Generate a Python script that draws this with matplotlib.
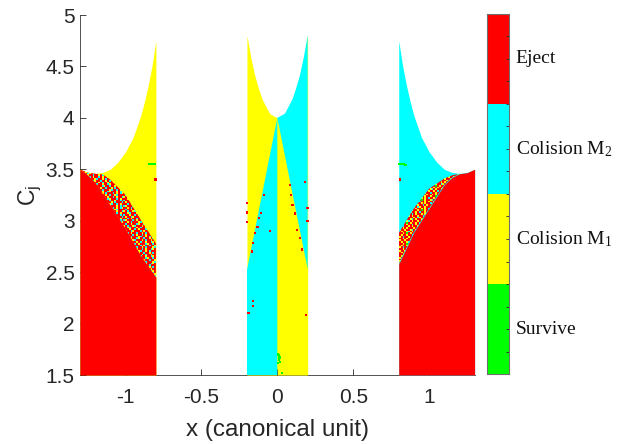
import numpy as np
import matplotlib.pyplot as plt
from matplotlib.colors import ListedColormap
from matplotlib.patches import Polygon

plt.rcParams['font.family'] = 'Liberation Sans'
plt.rcParams['axes.unicode_minus'] = False

# categories: 0 Survive, 1 Colision M1, 2 Colision M2, 3 Eject
cat_names = ["Survive", r"Colision $\mathregular{M_1}$", r"Colision $\mathregular{M_2}$", "Eject"]
cat_colors = ["#00ff00", "#ffff00", "#00ffff", "#ff0000"]
code = {"G": 0, "Y": 1, "C": 2, "R": 3}

# zero velocity curve (top of the allowed region), left strip and centre strip
zvc_left_x = [-1.30, -1.25, -1.20, -1.15, -1.10, -1.05, -1.00, -0.95, -0.90, -0.875, -0.85, -0.825, -0.80]
zvc_left_c = [3.50, 3.47, 3.46, 3.47, 3.50, 3.57, 3.67, 3.81, 4.02, 4.16, 4.32, 4.51, 4.75]
zvc_mid_x = [-0.20, -0.175, -0.15, -0.125, -0.10, -0.05, 0.0, 0.05, 0.10, 0.125, 0.15, 0.175, 0.20]
zvc_mid_c = [4.80, 4.59, 4.42, 4.29, 4.18, 4.04, 4.00, 4.04, 4.18, 4.29, 4.42, 4.59, 4.80]

# mixed band near L3 (left) : inner edge = top of solid red, outer edge = start of solid yellow
band_left_x = [-1.30, -1.25, -1.20, -1.15, -1.10, -1.00, -0.90, -0.80]
band_left_inner = [3.50, 3.445, 3.37, 3.26, 3.15, 2.92, 2.66, 2.45]
band_left_outer = [3.50, 3.467, 3.457, 3.45, 3.40, 3.25, 3.01, 2.78]

# mixed band near L2 (right)
band_right_x = [0.80, 0.90, 1.00, 1.10, 1.15, 1.20, 1.25, 1.30]
band_right_inner = [2.58, 2.89, 3.12, 3.35, 3.42, 3.457, 3.467, 3.50]
band_right_outer = [2.88, 3.12, 3.31, 3.41, 3.44, 3.457, 3.467, 3.50]

# diagonal boundaries in the centre strip
diag_x = [-0.20, 0.0, 0.20]
diag_c = [2.52, 4.00, 2.53]

# texture of the chaotic bands
tex_left = [
    "RRCRYRRCRRYRCRRRYCRRCRYR",
    "RYRRCYRRRCRYRRCRRYRCRRRC",
    "CRRYRRCRYRRRCYRRCRRYRRCR",
    "RRYCRRRYRCRRYRRCYRRRCRYR",
    "YRCRRYCRRRYRCRRYRRCRYRRC",
    "RCRRYRRCYRRCRRYRCRRYCRRR",
    "RRYRCRRRYCRRYRCRRRCRYRCY",
    "CYRRRCRYRRCRYRRCYRRRYRCR",
]
tex_right = [
    "RYRRYCRYRRYRGRYRRYCRYRRY",
    "YRRYRRYCRYRRYRYRCRRYRYRR",
    "RRYRYRRRYRCYRRYRRYRRGRYR",
    "YRCRRYRYRRYRRCRYRRYRYRRC",
    "RYRRYRRCRYRRYRYRRCRRYRRY",
    "RRYRGRYRRYRCRRYRYRRYRCRR",
]

# isolated pixels
speck_x = [-0.199, -0.199, -0.199, -0.086, -0.105, -0.118, -0.13, -0.145, -0.158, -0.167,
           -0.05, -0.16, -0.16, -0.19, 0.081, 0.092, 0.10, 0.114, 0.13, 0.147, 0.162,
           0.18, 0.199, 0.199, 0.19, -0.80, -0.805, 0.81,
           -0.845, -0.835, -0.825, -0.815, -0.805, 0.805, 0.815, 0.825, 0.835, 0.845,
           0.005, 0.012, 0.01, 0.02, 0.005, 0.015, 0.03]
speck_c = [3.17, 3.08, 2.99, 3.25, 3.075, 3.03, 2.94, 2.88, 2.78, 2.70,
           2.90, 2.22, 2.17, 2.10, 3.35, 3.25, 3.15, 3.07, 2.91, 2.83, 2.72,
           3.38, 3.12, 3.00, 2.08, 3.40, 3.40, 3.40,
           3.555, 3.555, 3.55, 3.55, 3.55, 3.555, 3.555, 3.55, 3.55, 3.545,
           1.62, 1.65, 1.69, 1.63, 1.70, 1.67, 1.52]
speck_cat = [3] * 28 + [0] * 17

cmap = ListedColormap(cat_colors)
RED, YEL, CYA = cat_colors[3], cat_colors[1], cat_colors[2]


def texture(rows, nr, nc):
    arr = np.array([[code[ch] for ch in r] for r in rows])
    reps = (nr // arr.shape[0] + 1, nc // arr.shape[1] + 1)
    return np.tile(arr, reps)[:nr, :nc]


def band(ax, xs, inner, outer, rows, nr, nc):
    verts = list(zip(xs, inner)) + list(zip(xs[::-1], outer[::-1]))
    poly = Polygon(verts, closed=True, transform=ax.transData, fc='none', ec='none')
    ax.add_patch(poly)
    im = ax.imshow(texture(rows, nr, nc), cmap=cmap, vmin=-0.5, vmax=3.5,
                   extent=[min(xs), max(xs), min(inner), max(outer)],
                   origin='lower', aspect='auto', interpolation='nearest', zorder=1.5)
    im.set_clip_path(poly)


fig = plt.figure(figsize=(6.38, 4.44), dpi=100)
ax = fig.add_axes([0.1254, 0.1554, 0.6185, 0.8108])

# left strip
ax.fill_between(zvc_left_x, 1.5, zvc_left_c, color=YEL, lw=0, zorder=1)
band(ax, band_left_x, band_left_inner, band_left_outer, tex_left, 60, 42)
ax.fill_between(band_left_x, 1.5, band_left_inner, color=RED, lw=0, zorder=2)

# right strip (mirror of the zero velocity curve)
zvc_right_x = [-v for v in zvc_left_x[::-1]]
zvc_right_c = zvc_left_c[::-1]
ax.fill_between(zvc_right_x, 1.5, zvc_right_c, color=CYA, lw=0, zorder=1)
band(ax, band_right_x, band_right_inner, band_right_outer, tex_right, 54, 42)
ax.fill_between(band_right_x, 1.5, band_right_inner, color=RED, lw=0, zorder=2)

# centre strip
ax.fill_between(zvc_mid_x, 1.5, zvc_mid_c, color=YEL, lw=0, zorder=1)
ax.fill([diag_x[0], diag_x[1], diag_x[1], diag_x[0]], [1.5, 1.5, diag_c[1], diag_c[0]],
        color=CYA, lw=0, zorder=2)
half = [(x, c) for x, c in zip(zvc_mid_x, zvc_mid_c) if x >= 0][::-1]
ax.fill([diag_x[1], diag_x[2]] + [p[0] for p in half],
        [diag_c[1], diag_c[2]] + [p[1] for p in half], color=CYA, lw=0, zorder=2)

ax.scatter(speck_x, speck_c, c=[cat_colors[k] for k in speck_cat], marker='s', s=2.5,
           linewidths=0, zorder=3)

ax.set_xlim(-1.3, 1.3)
ax.set_ylim(1.5, 5)
ax.set_xticks([-1, -0.5, 0, 0.5, 1])
ax.set_xticklabels(["-1", "-0.5", "0", "0.5", "1"])
ax.set_yticks([1.5, 2, 2.5, 3, 3.5, 4, 4.5, 5])
ax.set_yticklabels(["1.5", "2", "2.5", "3", "3.5", "4", "4.5", "5"])
ax.tick_params(direction='in', length=4, labelsize=15, colors='#262626', width=0.6)
ax.tick_params(axis='x', pad=9)
ax.tick_params(axis='y', pad=4)
for s in ['top', 'right']:
    ax.spines[s].set_visible(False)
for s in ['left', 'bottom']:
    ax.spines[s].set_color('#505050')
    ax.spines[s].set_linewidth(0.7)
    ax.spines[s].set_zorder(0.5)
ax.set_xlabel("x (canonical unit)", fontsize=17.5, color='#262626', labelpad=9)
ax.set_ylabel(r"$\mathregular{C_j}$", fontsize=16.5, color='#262626', labelpad=1)

# colour bar
cax = fig.add_axes([487 / 638, 70 / 444, 22 / 638, 360 / 444])
cax.pcolormesh([0, 1], [0, 1, 2, 3, 4], np.array([[0], [1], [2], [3]]),
               cmap=cmap, vmin=-0.5, vmax=3.5)
cax.set_xlim(0, 1)
cax.set_ylim(0, 4)
cax.set_xticks([])
cax.yaxis.tick_right()
cax.set_yticks(np.arange(0, 4.01, 0.25))
cax.set_yticklabels([])
cax.tick_params(direction='in', length=2, width=0.6, colors='#262626')
for s in cax.spines.values():
    s.set_color('#707070')
    s.set_linewidth(0.8)
for k, name in enumerate(cat_names):
    cax.text(1.3, k + 0.5, name, family='Liberation Serif', fontsize=14,
             va='center', ha='left', color='#111111')

fig.savefig("out.png", dpi=100)
